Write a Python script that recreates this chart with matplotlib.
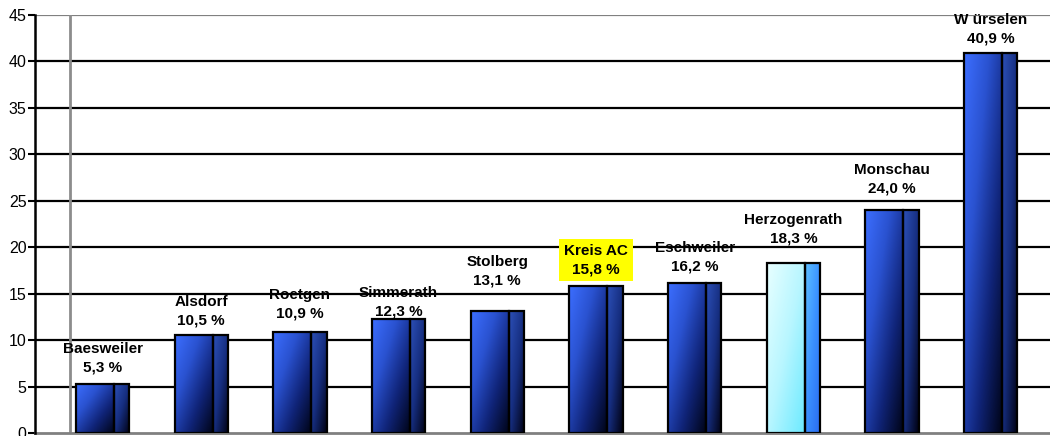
import matplotlib
matplotlib.use('Agg')
import matplotlib.pyplot as plt
import numpy as np
from matplotlib.colors import LinearSegmentedColormap

plt.rcParams['font.family'] = ['Liberation Sans', 'DejaVu Sans']

# Daten
orte = ['Baesweiler', 'Alsdorf', 'Roetgen', 'Simmerath', 'Stolberg', 'Kreis AC',
        'Eschweiler', 'Herzogenrath', 'Monschau', 'W ürselen']
werte = [5.3, 10.5, 10.9, 12.3, 13.1, 15.8, 16.2, 18.3, 24.0, 40.9]
wert_texte = ['5,3 %', '10,5 %', '10,9 %', '12,3 %', '13,1 %', '15,8 %',
              '16,2 %', '18,3 %', '24,0 %', '40,9 %']
y_ticks = [0, 5, 10, 15, 20, 25, 30, 35, 40, 45]

# Layout: Abstand Beschriftung ueber Balken (Pixel)
label_gap = [17, 16, 19, 8, 32, 18, 17, 26, 23, 16]

# Farbverlaeufe
cm_front = LinearSegmentedColormap.from_list('front', ['#3c6eff', '#2a52d0', '#102478', '#000418'])
cm_side = LinearSegmentedColormap.from_list('side', ['#2c50b8', '#162e80', '#000010'])
cm_front_hl = LinearSegmentedColormap.from_list('front_hl', ['#e8ffff', '#b8f6ff', '#6ceaff'])
cm_side_hl = LinearSegmentedColormap.from_list('side_hl', ['#5cc0ff', '#3a90ff', '#2a6af0'])

fig = plt.figure(figsize=(10.5, 4.36), dpi=100)
ax = fig.add_axes([35 / 1050, 3 / 436, 1 - 35 / 1050, 1 - 18 / 436])

x = np.arange(len(orte))
total_w = 0.54
front_w = 0.385
side_w = total_w - front_w

# Gitterlinien
for t in y_ticks[1:-1]:
    ax.axhline(t, color='black', lw=1.6, zorder=1)
ax.axhline(45, color='#808080', lw=1.6, zorder=1)
ax.axvline(-0.33, color='#8c8c8c', lw=2, zorder=1)

front = ax.bar(x - total_w / 2, werte, width=front_w, align='edge',
               facecolor='none', edgecolor='black', linewidth=1.6, zorder=4)
side = ax.bar(x - total_w / 2 + front_w, werte, width=side_w, align='edge',
              facecolor='none', edgecolor='black', linewidth=1.6, zorder=4)

uu, vv = np.meshgrid(np.linspace(0, 1, 40), np.linspace(0, 1, 200))
grad = 0.5 * uu + 0.5 * vv  # oben links hell, unten rechts dunkel

for i, (pf, ps) in enumerate(zip(front, side)):
    hl = orte[i] == 'Herzogenrath'
    for p, cm in ((pf, cm_front_hl if hl else cm_front), (ps, cm_side_hl if hl else cm_side)):
        x0, w, h = p.get_x(), p.get_width(), p.get_height()
        im = ax.imshow(grad, cmap=cm, extent=(x0, x0 + w, 0, h), origin='upper',
                       aspect='auto', zorder=3, interpolation='bilinear')
        im.set_clip_path(p)

# Beschriftungen
for i, (ort, v, txt) in enumerate(zip(orte, werte, wert_texte)):
    kw = {}
    if ort == 'Kreis AC':
        kw['bbox'] = dict(facecolor='#ffff00', edgecolor='none', pad=3.5)
    ax.annotate(ort + '\n' + txt, xy=(x[i], v), xytext=(0, label_gap[i] - 8),
                textcoords='offset pixels', ha='center', va='bottom',
                fontsize=11, fontweight='bold', linespacing=1.4,
                zorder=6, annotation_clip=False, **kw)

ax.set_xlim(-0.684, 9.6)
ax.set_ylim(0, 45)
ax.set_yticks(y_ticks)
ax.set_xticks([])
ax.tick_params(axis='y', direction='out', length=5, width=1.5, pad=1, labelsize=11.5)

for s in ('top', 'right'):
    ax.spines[s].set_visible(False)
ax.spines['left'].set_linewidth(1.8)
ax.spines['left'].set_zorder(5)
ax.spines['bottom'].set_color('#808080')
ax.spines['bottom'].set_linewidth(2)

fig.savefig('out.png', dpi=100)
